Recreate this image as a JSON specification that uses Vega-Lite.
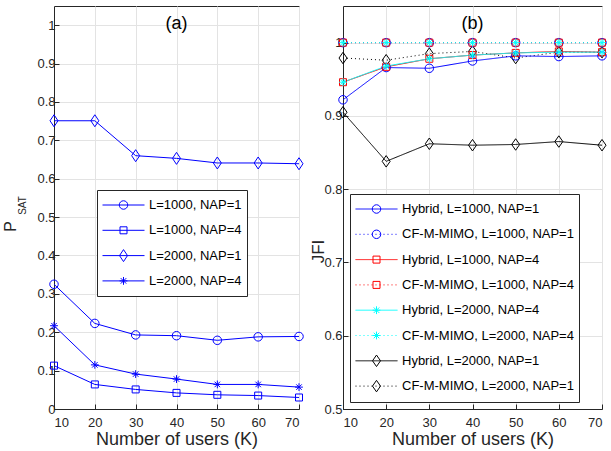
{
  "$schema": "https://vega.github.io/schema/vega-lite/v6.json",
  "padding": {"left": 1, "top": 5, "right": 0, "bottom": 0},
  "bounds": "flush",
  "spacing": 44,
  "background": "white",
  "config": {
    "font": "Liberation Sans",
    "view": {"stroke": "#262626", "strokeWidth": 1},
    "axis": {
      "labelFont": "Liberation Sans",
      "labelFontSize": 13,
      "labelColor": "#262626",
      "titleFont": "Liberation Sans",
      "titleFontSize": 18,
      "titleFontWeight": "normal",
      "titleColor": "#262626",
      "gridColor": "#e3e3e3",
      "gridWidth": 1,
      "domainColor": "#262626",
      "tickColor": "#262626",
      "tickSize": -5
    },
    "axisX": {"labelPadding": 12},
    "axisY": {"labelPadding": 4}
  },
  "datasets": {
    "a": [
      {"K": 10, "s": "L=1000, NAP=1", "v": 0.325}, {"K": 20, "s": "L=1000, NAP=1", "v": 0.223}, {"K": 30, "s": "L=1000, NAP=1", "v": 0.193}, {"K": 40, "s": "L=1000, NAP=1", "v": 0.191}, {"K": 50, "s": "L=1000, NAP=1", "v": 0.179}, {"K": 60, "s": "L=1000, NAP=1", "v": 0.188}, {"K": 70, "s": "L=1000, NAP=1", "v": 0.189},
      {"K": 10, "s": "L=1000, NAP=4", "v": 0.113}, {"K": 20, "s": "L=1000, NAP=4", "v": 0.064}, {"K": 30, "s": "L=1000, NAP=4", "v": 0.051}, {"K": 40, "s": "L=1000, NAP=4", "v": 0.042}, {"K": 50, "s": "L=1000, NAP=4", "v": 0.037}, {"K": 60, "s": "L=1000, NAP=4", "v": 0.035}, {"K": 70, "s": "L=1000, NAP=4", "v": 0.030},
      {"K": 10, "s": "L=2000, NAP=1", "v": 0.751}, {"K": 20, "s": "L=2000, NAP=1", "v": 0.751}, {"K": 30, "s": "L=2000, NAP=1", "v": 0.660}, {"K": 40, "s": "L=2000, NAP=1", "v": 0.653}, {"K": 50, "s": "L=2000, NAP=1", "v": 0.641}, {"K": 60, "s": "L=2000, NAP=1", "v": 0.641}, {"K": 70, "s": "L=2000, NAP=1", "v": 0.639},
      {"K": 10, "s": "L=2000, NAP=4", "v": 0.217}, {"K": 20, "s": "L=2000, NAP=4", "v": 0.115}, {"K": 30, "s": "L=2000, NAP=4", "v": 0.091}, {"K": 40, "s": "L=2000, NAP=4", "v": 0.078}, {"K": 50, "s": "L=2000, NAP=4", "v": 0.064}, {"K": 60, "s": "L=2000, NAP=4", "v": 0.064}, {"K": 70, "s": "L=2000, NAP=4", "v": 0.057}
    ],
    "b": [
      {"K": 10, "s": "Hybrid, L=2000, NAP=1", "v": 0.905}, {"K": 20, "s": "Hybrid, L=2000, NAP=1", "v": 0.838}, {"K": 30, "s": "Hybrid, L=2000, NAP=1", "v": 0.862}, {"K": 40, "s": "Hybrid, L=2000, NAP=1", "v": 0.860}, {"K": 50, "s": "Hybrid, L=2000, NAP=1", "v": 0.861}, {"K": 60, "s": "Hybrid, L=2000, NAP=1", "v": 0.865}, {"K": 70, "s": "Hybrid, L=2000, NAP=1", "v": 0.860},
      {"K": 10, "s": "CF-M-MIMO, L=2000, NAP=1", "v": 0.979}, {"K": 20, "s": "CF-M-MIMO, L=2000, NAP=1", "v": 0.976}, {"K": 30, "s": "CF-M-MIMO, L=2000, NAP=1", "v": 0.985}, {"K": 40, "s": "CF-M-MIMO, L=2000, NAP=1", "v": 0.988}, {"K": 50, "s": "CF-M-MIMO, L=2000, NAP=1", "v": 0.979}, {"K": 60, "s": "CF-M-MIMO, L=2000, NAP=1", "v": 0.987}, {"K": 70, "s": "CF-M-MIMO, L=2000, NAP=1", "v": 0.987},
      {"K": 10, "s": "Hybrid, L=1000, NAP=1", "v": 0.922}, {"K": 20, "s": "Hybrid, L=1000, NAP=1", "v": 0.966}, {"K": 30, "s": "Hybrid, L=1000, NAP=1", "v": 0.965}, {"K": 40, "s": "Hybrid, L=1000, NAP=1", "v": 0.975}, {"K": 50, "s": "Hybrid, L=1000, NAP=1", "v": 0.982}, {"K": 60, "s": "Hybrid, L=1000, NAP=1", "v": 0.981}, {"K": 70, "s": "Hybrid, L=1000, NAP=1", "v": 0.982},
      {"K": 10, "s": "CF-M-MIMO, L=1000, NAP=1", "v": 1.0}, {"K": 20, "s": "CF-M-MIMO, L=1000, NAP=1", "v": 1.0}, {"K": 30, "s": "CF-M-MIMO, L=1000, NAP=1", "v": 1.0}, {"K": 40, "s": "CF-M-MIMO, L=1000, NAP=1", "v": 1.0}, {"K": 50, "s": "CF-M-MIMO, L=1000, NAP=1", "v": 1.0}, {"K": 60, "s": "CF-M-MIMO, L=1000, NAP=1", "v": 1.0}, {"K": 70, "s": "CF-M-MIMO, L=1000, NAP=1", "v": 1.0},
      {"K": 10, "s": "Hybrid, L=1000, NAP=4", "v": 0.946}, {"K": 20, "s": "Hybrid, L=1000, NAP=4", "v": 0.967}, {"K": 30, "s": "Hybrid, L=1000, NAP=4", "v": 0.978}, {"K": 40, "s": "Hybrid, L=1000, NAP=4", "v": 0.983}, {"K": 50, "s": "Hybrid, L=1000, NAP=4", "v": 0.986}, {"K": 60, "s": "Hybrid, L=1000, NAP=4", "v": 0.988}, {"K": 70, "s": "Hybrid, L=1000, NAP=4", "v": 0.987},
      {"K": 10, "s": "CF-M-MIMO, L=1000, NAP=4", "v": 1.0}, {"K": 20, "s": "CF-M-MIMO, L=1000, NAP=4", "v": 1.0}, {"K": 30, "s": "CF-M-MIMO, L=1000, NAP=4", "v": 1.0}, {"K": 40, "s": "CF-M-MIMO, L=1000, NAP=4", "v": 1.0}, {"K": 50, "s": "CF-M-MIMO, L=1000, NAP=4", "v": 1.0}, {"K": 60, "s": "CF-M-MIMO, L=1000, NAP=4", "v": 1.0}, {"K": 70, "s": "CF-M-MIMO, L=1000, NAP=4", "v": 1.0},
      {"K": 10, "s": "Hybrid, L=2000, NAP=4", "v": 0.946}, {"K": 20, "s": "Hybrid, L=2000, NAP=4", "v": 0.968}, {"K": 30, "s": "Hybrid, L=2000, NAP=4", "v": 0.978}, {"K": 40, "s": "Hybrid, L=2000, NAP=4", "v": 0.983}, {"K": 50, "s": "Hybrid, L=2000, NAP=4", "v": 0.986}, {"K": 60, "s": "Hybrid, L=2000, NAP=4", "v": 0.987}, {"K": 70, "s": "Hybrid, L=2000, NAP=4", "v": 0.987},
      {"K": 10, "s": "CF-M-MIMO, L=2000, NAP=4", "v": 1.0}, {"K": 20, "s": "CF-M-MIMO, L=2000, NAP=4", "v": 1.0}, {"K": 30, "s": "CF-M-MIMO, L=2000, NAP=4", "v": 1.0}, {"K": 40, "s": "CF-M-MIMO, L=2000, NAP=4", "v": 1.0}, {"K": 50, "s": "CF-M-MIMO, L=2000, NAP=4", "v": 1.0}, {"K": 60, "s": "CF-M-MIMO, L=2000, NAP=4", "v": 1.0}, {"K": 70, "s": "CF-M-MIMO, L=2000, NAP=4", "v": 1.0}
    ]
  },
  "hconcat": [
    {
      "width": 245,
      "height": 403,
      "data": {"name": "a"},
      "title": {"text": "(a)", "fontSize": 18, "fontWeight": "normal", "font": "Liberation Sans", "color": "#000000", "offset": -27, "frame": "group", "anchor": "middle"},
      "layer": [
        {
          "mark": {"type": "line", "strokeWidth": 1},
          "encoding": {
            "x": {"field": "K", "type": "quantitative", "scale": {"domain": [10, 70], "nice": false}, "axis": {"values": [10, 20, 30, 40, 50, 60, 70], "title": "Number of users (K)", "titleY": 35, "titleBaseline": "alphabetic", "grid": true}},
            "y": {"field": "v", "type": "quantitative", "scale": {"domain": [0, 1.05], "nice": false}, "axis": {"values": [0, 0.1, 0.2, 0.3, 0.4, 0.5, 0.6, 0.7, 0.8, 0.9, 1], "format": "~g", "title": "P", "titleFontSize": 16, "titleX": -39, "titleY": 220, "titleAngle": -90, "titleAlign": "center", "titleBaseline": "alphabetic", "grid": true}},
            "color": {"field": "s", "type": "nominal", "scale": {"domain": ["L=1000, NAP=1", "L=1000, NAP=4", "L=2000, NAP=1", "L=2000, NAP=4"], "range": ["#0000ff", "#0000ff", "#0000ff", "#0000ff"]},
              "legend": {"title": null, "orient": "none", "legendX": 43, "legendY": 184, "symbolType": "stroke", "symbolSize": 1764, "symbolStrokeWidth": 1, "clipHeight": 20, "labelFont": "Liberation Sans", "labelFontSize": 13, "labelColor": "#000000", "labelOffset": 4, "rowPadding": 5.3, "padding": 5, "strokeColor": "#262626", "fillColor": "#ffffff", "labelLimit": 400}}
          }
        },
        {
          "mark": {"type": "point", "filled": false, "size": 100, "strokeWidth": 1, "opacity": 1},
          "encoding": {
            "x": {"field": "K", "type": "quantitative"},
            "y": {"field": "v", "type": "quantitative", "axis": {"orient": "left", "title": "SAT", "titleFontSize": 10, "titleX": -29, "titleY": 199, "titleAngle": -90, "titleAlign": "center", "titleBaseline": "alphabetic", "labels": false, "ticks": false, "domain": false, "grid": false}},
            "color": {"field": "s", "type": "nominal", "scale": {"domain": ["L=1000, NAP=1", "L=1000, NAP=4", "L=2000, NAP=1", "L=2000, NAP=4"], "range": ["#0000ff", "#0000ff", "#0000ff", "#0000ff"]},
              "legend": {"title": null, "orient": "none", "legendX": 59, "legendY": 184, "symbolSize": 100, "symbolStrokeWidth": 1, "clipHeight": 20, "labelExpr": "''", "labelOffset": 0, "rowPadding": 5.3, "padding": 5}},
            "shape": {"field": "s", "type": "nominal", "scale": {"domain": ["L=1000, NAP=1", "L=1000, NAP=4", "L=2000, NAP=1", "L=2000, NAP=4"], "range": ["M-0.85,0A0.85,0.85 0 1,0 0.85,0A0.85,0.85 0 1,0 -0.85,0Z", "M-0.7,-0.7L0.7,-0.7L0.7,0.7L-0.7,0.7Z", "M0,-1.2L0.8,0L0,1.2L-0.8,0Z", "M-0.78,0L0.78,0M0,-0.78L0,0.78M-0.55,-0.55L0.55,0.55M-0.55,0.55L0.55,-0.55"]},
              "legend": {"title": null, "orient": "none", "legendX": 59, "legendY": 184, "symbolSize": 100, "symbolStrokeWidth": 1, "clipHeight": 20, "labelExpr": "''", "labelOffset": 0, "rowPadding": 5.3, "padding": 5}}
          }
        }
      ],
      "resolve": {"scale": {"color": "independent", "shape": "independent"}, "legend": {"color": "independent", "shape": "independent"}, "axis": {"y": "independent"}}
    },
    {
      "width": 259,
      "height": 403,
      "data": {"name": "b"},
      "title": {"text": "(b)", "fontSize": 18, "fontWeight": "normal", "font": "Liberation Sans", "color": "#000000", "offset": -27, "frame": "group", "anchor": "middle"},
      "layer": [
        {
          "mark": {"type": "line", "strokeWidth": 1},
          "encoding": {
            "x": {"field": "K", "type": "quantitative", "scale": {"domain": [10, 70], "nice": false}, "axis": {"values": [10, 20, 30, 40, 50, 60, 70], "title": "Number of users (K)", "titleY": 35, "titleBaseline": "alphabetic", "grid": true}},
            "y": {"field": "v", "type": "quantitative", "scale": {"domain": [0.5, 1.05], "nice": false}, "axis": {"values": [0.5, 0.6, 0.7, 0.8, 0.9, 1], "format": "~g", "title": "JFI", "titleFontSize": 17, "titleX": -20, "titleY": 245, "titleAngle": -90, "titleAlign": "center", "titleBaseline": "alphabetic", "labelPadding": 6, "grid": true}},
            "color": {"field": "s", "type": "nominal", "scale": {"domain": ["Hybrid, L=1000, NAP=1", "CF-M-MIMO, L=1000, NAP=1", "Hybrid, L=1000, NAP=4", "CF-M-MIMO, L=1000, NAP=4", "Hybrid, L=2000, NAP=4", "CF-M-MIMO, L=2000, NAP=4", "Hybrid, L=2000, NAP=1", "CF-M-MIMO, L=2000, NAP=1"], "range": ["#0000ff", "#0000ff", "#ff0000", "#ff0000", "#00ffff", "#00ffff", "#000000", "#000000"]},
              "legend": {"title": null, "orient": "none", "legendX": 7, "legendY": 188, "symbolType": "stroke", "symbolSize": 1764, "symbolStrokeWidth": 1, "clipHeight": 20, "labelFont": "Liberation Sans", "labelFontSize": 13, "labelColor": "#000000", "labelOffset": 4, "rowPadding": 5.3, "padding": 5, "strokeColor": "#262626", "fillColor": "#ffffff", "labelLimit": 400}},
            "strokeDash": {"field": "s", "type": "nominal", "scale": {"domain": ["Hybrid, L=1000, NAP=1", "CF-M-MIMO, L=1000, NAP=1", "Hybrid, L=1000, NAP=4", "CF-M-MIMO, L=1000, NAP=4", "Hybrid, L=2000, NAP=4", "CF-M-MIMO, L=2000, NAP=4", "Hybrid, L=2000, NAP=1", "CF-M-MIMO, L=2000, NAP=1"], "range": [[1, 0], [1, 3], [1, 0], [1, 3], [1, 0], [1, 3], [1, 0], [1, 3]]},
              "legend": {"title": null, "orient": "none", "legendX": 7, "legendY": 188, "symbolType": "stroke", "symbolSize": 1764, "symbolStrokeWidth": 1, "clipHeight": 20, "labelFont": "Liberation Sans", "labelFontSize": 13, "labelColor": "#000000", "labelOffset": 4, "rowPadding": 5.3, "padding": 5, "strokeColor": "#262626", "fillColor": "#ffffff", "labelLimit": 400}}
          }
        },
        {
          "mark": {"type": "point", "filled": false, "size": 100, "strokeWidth": 1, "opacity": 1},
          "encoding": {
            "x": {"field": "K", "type": "quantitative"},
            "y": {"field": "v", "type": "quantitative"},
            "color": {"field": "s", "type": "nominal", "scale": {"domain": ["Hybrid, L=1000, NAP=1", "CF-M-MIMO, L=1000, NAP=1", "Hybrid, L=1000, NAP=4", "CF-M-MIMO, L=1000, NAP=4", "Hybrid, L=2000, NAP=4", "CF-M-MIMO, L=2000, NAP=4", "Hybrid, L=2000, NAP=1", "CF-M-MIMO, L=2000, NAP=1"], "range": ["#0000ff", "#0000ff", "#ff0000", "#ff0000", "#00ffff", "#00ffff", "#000000", "#000000"]},
              "legend": {"title": null, "orient": "none", "legendX": 23, "legendY": 188, "symbolSize": 100, "symbolStrokeWidth": 1, "clipHeight": 20, "labelExpr": "''", "labelOffset": 0, "rowPadding": 5.3, "padding": 5}},
            "shape": {"field": "s", "type": "nominal", "scale": {"domain": ["Hybrid, L=1000, NAP=1", "CF-M-MIMO, L=1000, NAP=1", "Hybrid, L=1000, NAP=4", "CF-M-MIMO, L=1000, NAP=4", "Hybrid, L=2000, NAP=4", "CF-M-MIMO, L=2000, NAP=4", "Hybrid, L=2000, NAP=1", "CF-M-MIMO, L=2000, NAP=1"], "range": ["M-0.85,0A0.85,0.85 0 1,0 0.85,0A0.85,0.85 0 1,0 -0.85,0Z", "M-0.85,0A0.85,0.85 0 1,0 0.85,0A0.85,0.85 0 1,0 -0.85,0Z", "M-0.7,-0.7L0.7,-0.7L0.7,0.7L-0.7,0.7Z", "M-0.7,-0.7L0.7,-0.7L0.7,0.7L-0.7,0.7Z", "M-0.78,0L0.78,0M0,-0.78L0,0.78M-0.55,-0.55L0.55,0.55M-0.55,0.55L0.55,-0.55", "M-0.78,0L0.78,0M0,-0.78L0,0.78M-0.55,-0.55L0.55,0.55M-0.55,0.55L0.55,-0.55", "M0,-1.15L0.8,0L0,1.15L-0.8,0Z", "M0,-1.15L0.8,0L0,1.15L-0.8,0Z"]},
              "legend": {"title": null, "orient": "none", "legendX": 23, "legendY": 188, "symbolSize": 100, "symbolStrokeWidth": 1, "clipHeight": 20, "labelExpr": "''", "labelOffset": 0, "rowPadding": 5.3, "padding": 5}}
          }
        }
      ],
      "resolve": {"scale": {"color": "independent", "shape": "independent", "strokeDash": "independent"}, "legend": {"color": "independent", "shape": "independent", "strokeDash": "independent"}}
    }
  ]
}
